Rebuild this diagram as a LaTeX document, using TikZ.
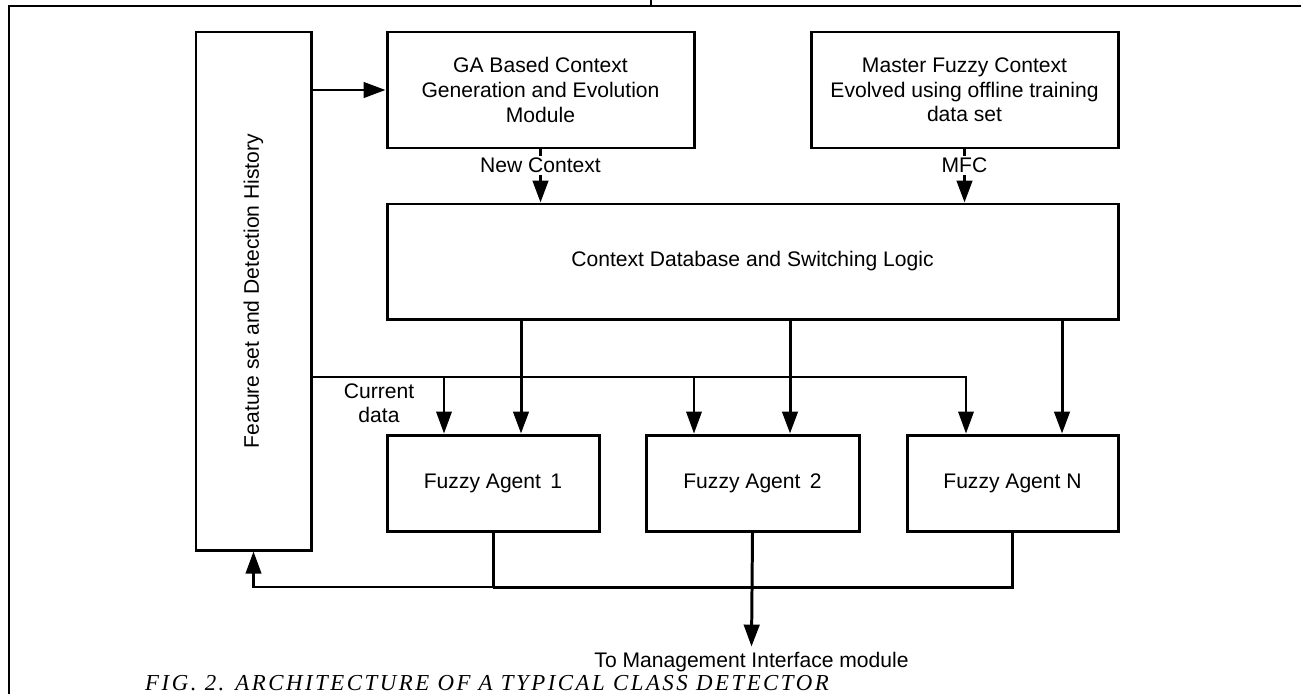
\documentclass[tikz,border=0pt]{standalone}
\usepackage{fontspec}
\setmainfont{Liberation Sans}
\newfontfamily\capfont[LetterSpace=11]{Liberation Serif}
\usepackage{tikz}
\usetikzlibrary{arrows.meta,positioning,calc}
\tikzset{
  block/.style={draw, line width=1.7pt, align=center, inner sep=2pt, font=\fontsize{12}{14}\selectfont},
  lbl/.style={align=center, inner sep=1pt, font=\fontsize{12}{13.5}\selectfont},
  arrow/.style={-{Triangle[length=4.4mm, width=3.1mm]}, line width=1.7pt},
  thinarrow/.style={-{Triangle[length=4.4mm, width=3.1mm]}, line width=1.2pt},
  busline/.style={line width=1.7pt},
  frameline/.style={line width=1.5pt}
}

\begin{document}
\begin{tikzpicture}[x=1cm,y=1cm]
  \useasboundingbox (0,0) rectangle (26.02,-13.88);
  % page frame
  \draw[frameline] (0.18,-13.88) -- (0.18,-0.12) -- (26.02,-0.12);
  \draw[frameline] (13.02,0) -- (13.02,-0.12);

  \node[block, minimum width=2.30cm, minimum height=10.36cm] (feat) at (5.07,-5.82) {};
  \node[lbl, rotate=90] (feattext) at (feat.center) {Feature set and Detection History};
  \node[block, minimum width=6.14cm, minimum height=2.32cm] (ga) at (10.81,-1.80) {GA Based Context\\Generation and Evolution\\Module};
  \node[block, minimum width=6.14cm, minimum height=2.32cm] (mfc) at (19.29,-1.80) {Master Fuzzy Context\\Evolved using offline training\\data set};
  \node[block, minimum width=14.62cm, minimum height=2.30cm] (db) at (15.05,-5.23) {Context Database and Switching Logic};
  \node[block, minimum width=4.24cm, minimum height=1.92cm] (ag1) at (9.86,-9.66) {Fuzzy Agent \,1};
  \node[block, minimum width=4.26cm, minimum height=1.92cm] (ag2) at (15.05,-9.66) {Fuzzy Agent \,2};
  \node[block, minimum width=4.22cm, minimum height=1.92cm] (agN) at (20.25,-9.66) {Fuzzy Agent N};

  \node[lbl] (curlbl) at (7.58,-8.06) {Current\\data};
  \node[lbl, inner sep=3pt] (mgmt) at (15.03,-13.24) {To Management Interface module};
  \node[font=\capfont\itshape\fontsize{13}{14}\selectfont, inner sep=0pt] (caption) at (9.74,-13.66)
    {FIG. 2. ARCHITECTURE OF A TYPICAL CLASS DETECTOR};

  \coordinate (cur) at (0,-7.54);
  \coordinate (bus) at (0,-11.74);

  \draw[arrow] (feat.east |- ga.west) -- (ga.west);
  \draw[arrow] (ga.south) -- node[lbl, fill=white, pos=0.30] (newlbl) {New Context} (ga.south |- db.north);
  \draw[arrow] (mfc.south) -- node[lbl, fill=white, pos=0.30] (mfclbl) {MFC} (mfc.south |- db.north);

  \draw[arrow] ([xshift=0.56cm]ag1.north |- db.south) -- ([xshift=0.56cm]ag1.north);
  \draw[arrow] ([xshift=0.75cm]ag2.north |- db.south) -- ([xshift=0.75cm]ag2.north);
  \draw[arrow] ([xshift=0.99cm]agN.north |- db.south) -- ([xshift=0.99cm]agN.north);

  \draw[thinarrow] (feat.east |- cur) -| ([xshift=-0.98cm]ag1.north);
  \draw[thinarrow] (feat.east |- cur) -| ([xshift=-1.17cm]ag2.north);
  \draw[thinarrow] (feat.east |- cur) -| ([xshift=-0.93cm]agN.north);

  \draw[busline] (agN.south) |- (ag1.south |- bus);
  \draw[busline] (ag1.south) -- (ag1.south |- bus);
  \draw[thinarrow] (ag1.south |- bus) -| (feat.south);
  \draw[arrow] (ag2.south) -- (mgmt.north);
\end{tikzpicture}
\end{document}
